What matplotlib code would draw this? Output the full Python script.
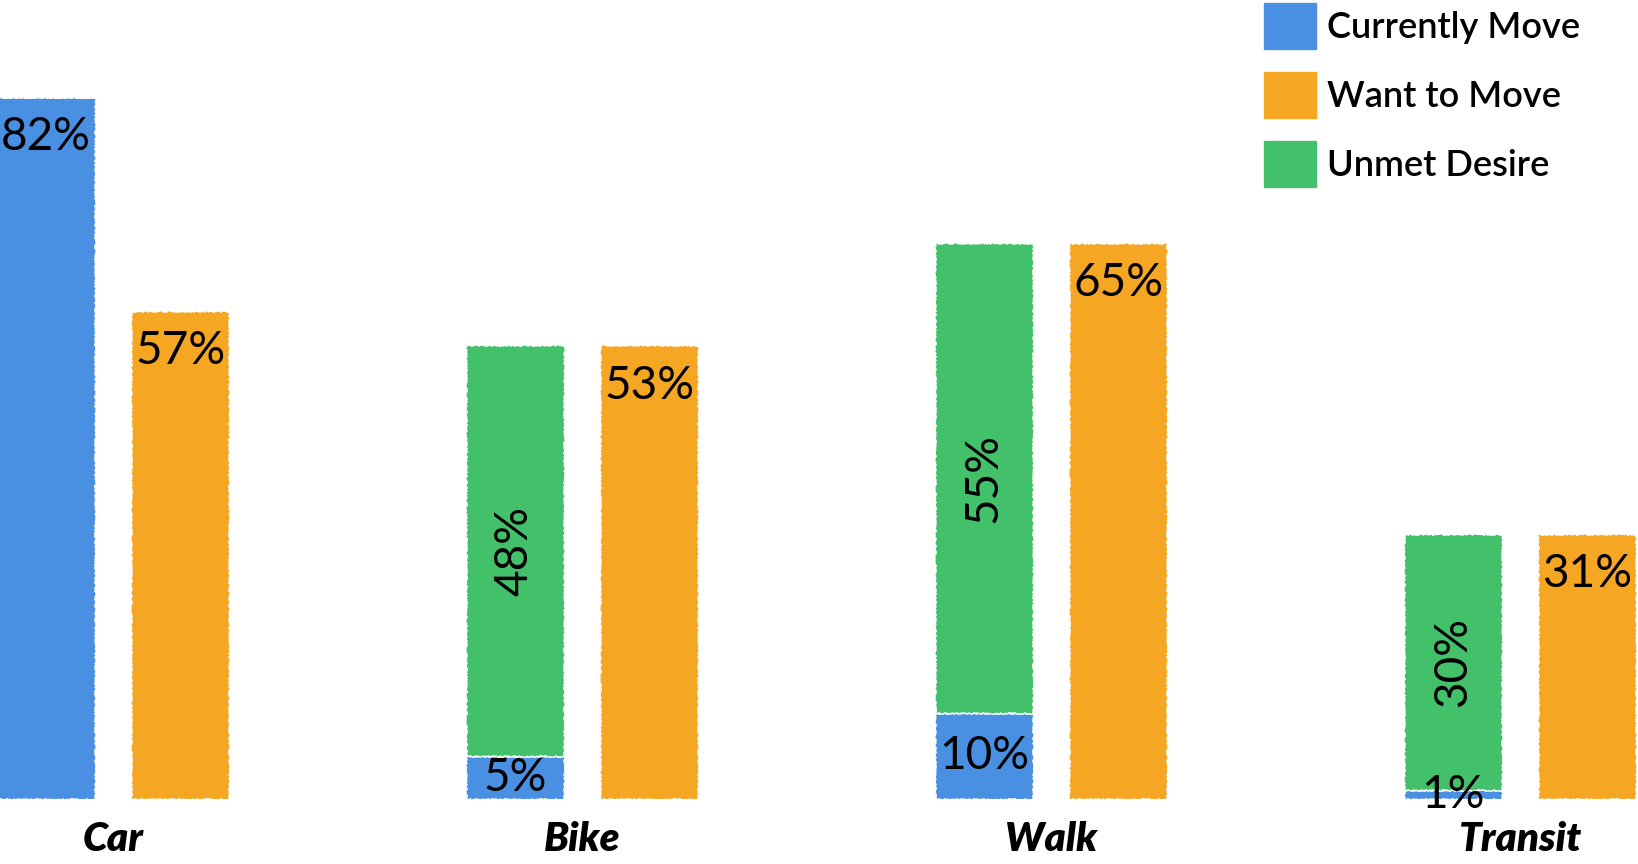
import numpy as np
import matplotlib.pyplot as plt
from matplotlib.patches import Patch

#---------------------------------------------
#data
#---------------------------------------------
modes = ['Car', 'Bike', 'Walk', 'Transit']
currently_move = [82, 5, 10, 1]
unmet_desire = [0, 48, 55, 30]
want_to_move = [57, 53, 65, 31]
series_names = ['Currently Move', 'Want to Move', 'Unmet Desire']

blue = '#4A90E2'
orange = '#F5A623'
green = '#42C16A'

plt.rcParams['font.family'] = ['Lato', 'DejaVu Sans']

#---------------------------------------------
#figure
#---------------------------------------------
fig = plt.figure(figsize=(16.38, 8.64), dpi=100)
ax = fig.add_axes([0, 65/864, 1, 799/864])

x = np.arange(len(modes))
off = 0.143
w = 0.21

bar_kw = dict(edgecolor='white', linewidth=1.0)
b_cur = ax.bar(x - off, currently_move, w, color=blue, **bar_kw)
b_unmet = ax.bar(x - off, unmet_desire, w, bottom=currently_move, color=green, **bar_kw)
b_want = ax.bar(x + off, want_to_move, w, color=orange, **bar_kw)

#slightly rough hand-drawn edges
for b in list(b_cur) + list(b_unmet) + list(b_want):
    b.set_sketch_params(scale=0.7, length=5, randomness=5)

top_off = 4.7  # label distance below bar top, data units
fs = 33

for i in range(len(modes)):
    c = currently_move[i]
    u = unmet_desire[i]
    if u == 0:
        ax.text(x[i] - off, c - top_off, '%d%%' % c, ha='center', va='center', fontsize=fs)
    else:
        ax.text(x[i] - off, c / 2, '%d%%' % c, ha='center', va='center', fontsize=fs)
        ax.text(x[i] - off, c + u / 2, '%d%%' % u, ha='center', va='center',
                fontsize=fs, rotation=90)
    ax.text(x[i] + off, want_to_move[i] - top_off, '%d%%' % want_to_move[i],
            ha='center', va='center', fontsize=fs)

ax.set_xlim(-113/469, (1638 - 113)/469)
ax.set_ylim(0, 799/8.56)
ax.set_xticks(x)
ax.set_xticklabels(modes, fontsize=29, fontweight='heavy', fontstyle='italic')
ax.tick_params(axis='x', length=0, pad=16)
ax.set_yticks([])
for s in ax.spines.values():
    s.set_visible(False)

handles = [Patch(color=blue), Patch(color=orange), Patch(color=green)]
fig.legend(handles, series_names, loc='upper left',
           bbox_to_anchor=(1264/1638, 1 - 3/864), frameon=False,
           borderpad=0, borderaxespad=0, handlelength=1.44, handleheight=1.6,
           handletextpad=0.3, labelspacing=0.62,
           prop={'size': 26, 'weight': 'semibold'})

fig.savefig('out.png', dpi=100)
